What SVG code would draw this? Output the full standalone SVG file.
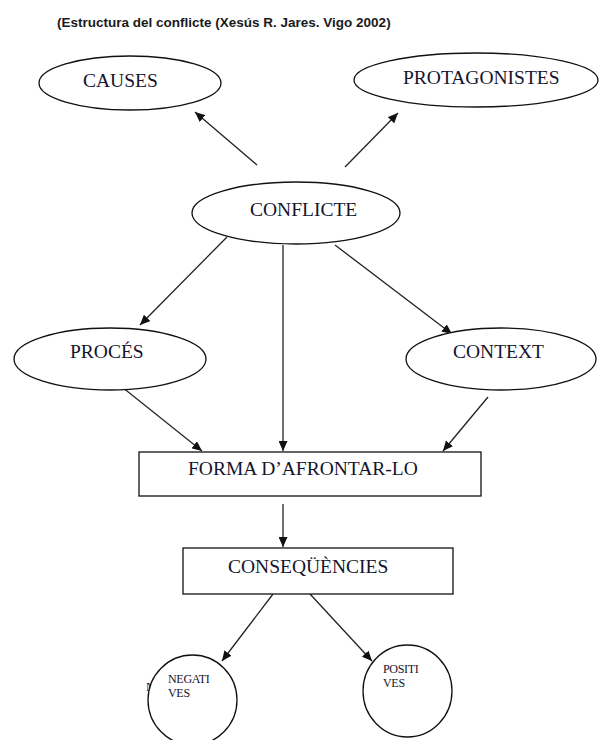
<svg xmlns="http://www.w3.org/2000/svg" width="603" height="740" viewBox="0 0 603 740">
<style>
.shape{fill:#fff;stroke:#111;stroke-width:1.3}
.lbl{font-family:"Liberation Serif","Times New Roman",serif;font-size:19.5px;fill:#14142e}
.sm{font-family:"Liberation Serif","Times New Roman",serif;font-size:12px;fill:#14142e;letter-spacing:-0.3px}
.title{font-family:"Liberation Sans",Arial,sans-serif;font-size:13.5px;font-weight:bold;fill:#1a1a1a}
.conn line{stroke:#222;stroke-width:1.3;marker-end:url(#ah)}
</style>
<defs>
<marker id="ah" markerUnits="userSpaceOnUse" markerWidth="11" markerHeight="9" refX="10" refY="4.5" orient="auto">
<path d="M0,0 L10,4.5 L0,9 z" fill="#111"/>
</marker>
</defs>
<rect width="603" height="740" fill="#fff"/>
<text class="title" x="57" y="27">(Estructura del conflicte (Xesús R. Jares. Vigo 2002)</text>
<g class="conn">
<line x1="257" y1="165" x2="195" y2="112"/>
<line x1="345" y1="167" x2="398" y2="113"/>
<line x1="227" y1="237" x2="140" y2="325"/>
<line x1="283" y1="245" x2="283" y2="451"/>
<line x1="335" y1="245" x2="452" y2="334"/>
<line x1="122" y1="387" x2="202" y2="451"/>
<line x1="488" y1="397" x2="443" y2="451"/>
<line x1="283" y1="504" x2="283" y2="547"/>
<line x1="273" y1="594" x2="222" y2="661"/>
<line x1="310" y1="594" x2="372" y2="661"/>
</g>
<g id="causes"><ellipse class="shape" cx="130" cy="83" rx="91" ry="27"/><text class="lbl" x="83" y="87">CAUSES</text></g>
<g id="protagonistes"><ellipse class="shape" cx="476" cy="80" rx="122" ry="27"/><text class="lbl" x="403" y="84">PROTAGONISTES</text></g>
<g id="conflicte"><ellipse class="shape" cx="296" cy="213" rx="104" ry="31"/><text class="lbl" x="250" y="216">CONFLICTE</text></g>
<g id="proces"><ellipse class="shape" cx="110" cy="359" rx="96" ry="31"/><text class="lbl" x="70" y="358">PROCÉS</text></g>
<g id="context"><ellipse class="shape" cx="501" cy="359" rx="95" ry="31"/><text class="lbl" x="453" y="358">CONTEXT</text></g>
<g id="forma"><rect class="shape" x="139" y="452" width="342" height="44"/><text class="lbl" x="188" y="475">FORMA D’AFRONTAR-LO</text></g>
<g id="consequencies"><rect class="shape" x="183" y="548" width="270" height="46"/><text class="lbl" x="228" y="573">CONSEQÜÈNCIES</text></g>
<g id="negatives"><text class="sm" x="146" y="691">N</text><ellipse class="shape" cx="192.5" cy="700" rx="44.5" ry="45"/><text class="sm" x="168" y="683">NEGATI</text><text class="sm" x="168" y="697">VES</text></g>
<g id="positives"><ellipse class="shape" cx="407.5" cy="691" rx="44.5" ry="46"/><text class="sm" x="383" y="673">POSITI</text><text class="sm" x="383" y="687">VES</text></g>
</svg>
